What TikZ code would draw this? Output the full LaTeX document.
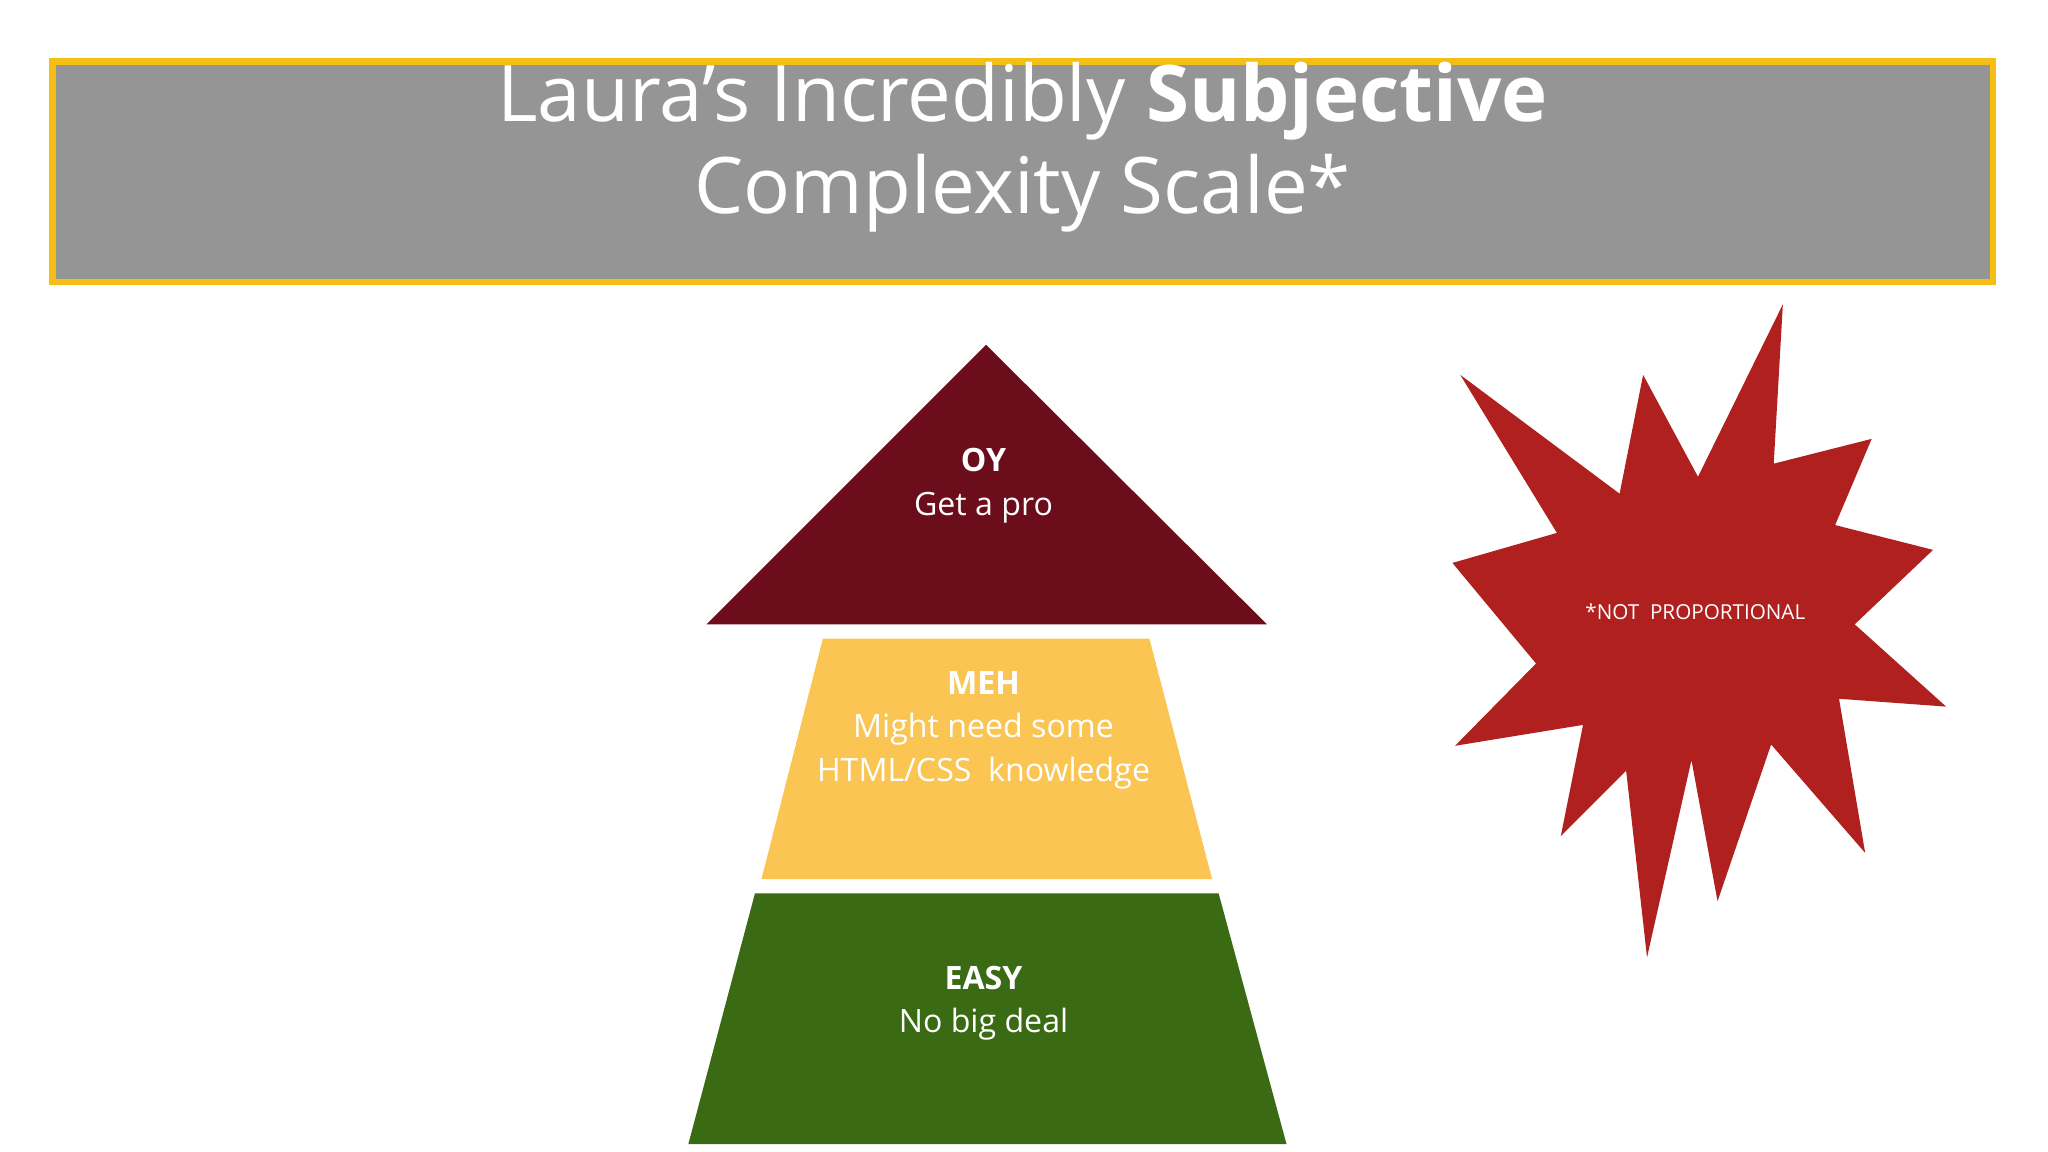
\documentclass[tikz,border=0pt]{standalone}
\usepackage{fontspec}
\setmainfont{Open Sans}
\definecolor{tgray}{HTML}{959595}
\definecolor{tyel}{HTML}{F5BE14}
\definecolor{oyc}{HTML}{6B0D1A}
\definecolor{mehc}{HTML}{FAC553}
\definecolor{easyc}{HTML}{3B6A14}
\definecolor{starc}{HTML}{B0201F}
\tikzset{lbl/.style={text=white,align=center,font=\fontsize{14}{19}\selectfont}}
\begin{document}
\begin{tikzpicture}[x=0.02cm,y=-0.02cm]
\useasboundingbox (0,0) rectangle (1568,882);
\draw[tyel,line width=5*0.02cm,fill=tgray] (40,47) rectangle (1526,216);
\node[text=white,align=center,font=\fontsize{34}{40}\selectfont] (title) at (783,113) {Laura’s Incredibly \textbf{Subjective}\\Complexity Scale*};
\fill[oyc] (755,264) -- (970,478) -- (541,478) -- cycle;
\node[lbl] (oy) at (753,372) {\textbf{OY}\\Get a pro};
\fill[mehc] (630,489) -- (880,489) -- (928,673) -- (583,673) -- cycle;
\node[lbl] (meh) at (753,559) {\textbf{MEH}\\Might need some\\HTML/CSS\ \ knowledge};
\fill[easyc] (578,684) -- (933,684) -- (985,876) -- (527,876) -- cycle;
\node[lbl] (easy) at (753,768) {\textbf{EASY}\\No big deal};
\fill[starc] (1365,233) -- (1358,355) -- (1433,336) -- (1405,402) -- (1480,421) -- (1420,478) -- (1490,541) -- (1408,535) -- (1428,653) -- (1356,570) -- (1315,690) -- (1295,582) -- (1261,733) -- (1245,590) -- (1195,640) -- (1212,555) -- (1114,571) -- (1176,508) -- (1112,431) -- (1192,408) -- (1118,287) -- (1240,378) -- (1258,287) -- (1300,365) -- cycle;
\node[text=white,font=\fontsize{9}{11}\selectfont] (np) at (1298,468) {*NOT\ \ PROPORTIONAL};
\end{tikzpicture}
\end{document}
